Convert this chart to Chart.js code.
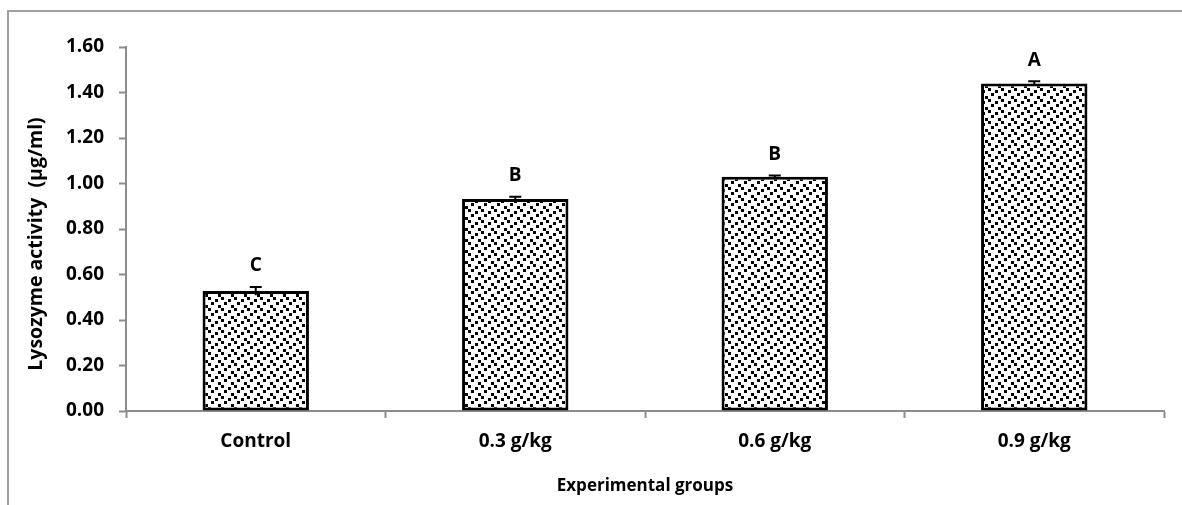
<!DOCTYPE html>
<html>
<head>
<meta charset="utf-8">
<script src="https://cdn.jsdelivr.net/npm/chart.js@4.4.1/dist/chart.umd.min.js"></script>
<style>
  html, body { margin: 0; padding: 0; background: #fff; }
  #wrap { width: 1182px; height: 505px; }
</style>
</head>
<body>
<div id="wrap"><canvas id="lysoChart" width="1182" height="505"></canvas></div>
<script>
// data
const groups = ['Control', '0.3 g/kg', '0.6 g/kg', '0.9 g/kg'];
const lysozyme = [0.527, 0.932, 1.030, 1.440];
const errors = [0.018, 0.010, 0.005, 0.010];
const letters = ['C', 'B', 'B', 'A'];
const yTicks = [0, 0.2, 0.4, 0.6, 0.8, 1.0, 1.2, 1.4, 1.6];
const yTitle = 'Lysozyme activity  (µg/ml)';

const FONT = "'Open Sans', 'Noto Sans', sans-serif";
const AXIS_GRAY = '#8c8c8c';

// dotted fill like the Excel pattern
function makePattern(ctx) {
    const tile = document.createElement('canvas');
    tile.width = 13;
    tile.height = 11;
    const t = tile.getContext('2d');
    t.fillStyle = '#fff';
    t.fillRect(0, 0, 13, 11);
    t.fillStyle = '#000';
    [[0, 0], [7, 2], [3, 5], [10, 8]].forEach(p => t.fillRect(p[0], p[1], 3, 3));
    return ctx.createPattern(tile, 'repeat');
}

// outer frame of the chart object (cut off at right and bottom) + y title
const framePlugin = {
    id: 'frame',
    beforeDraw(chart) {
        const ctx = chart.ctx;
        ctx.save();
        ctx.fillStyle = '#fff';
        ctx.fillRect(0, 0, chart.width, chart.height);
        ctx.strokeStyle = '#a0a0a0';
        ctx.lineWidth = 2;
        ctx.beginPath();
        ctx.moveTo(8, chart.height + 5);
        ctx.lineTo(8, 11);
        ctx.lineTo(chart.width + 5, 11);
        ctx.stroke();

        // Excel centres this title a bit lower than Chart.js would
        ctx.translate(36, 244);
        ctx.rotate(-Math.PI / 2);
        ctx.fillStyle = '#000';
        ctx.font = 'bold 19.5px ' + FONT;
        ctx.textAlign = 'center';
        ctx.textBaseline = 'middle';
        ctx.fillText(yTitle, 0, 0);
        ctx.restore();
    }
};

// error bars and significance letters
const errorPlugin = {
    id: 'errorLetters',
    afterDatasetsDraw(chart) {
        const ctx = chart.ctx;
        const y = chart.scales.y;
        const meta = chart.getDatasetMeta(0);
        ctx.save();
        ctx.strokeStyle = '#000';
        ctx.lineWidth = 2;
        ctx.fillStyle = '#000';
        ctx.font = 'bold 19px ' + FONT;
        ctx.textAlign = 'center';
        ctx.textBaseline = 'middle';
        meta.data.forEach((bar, i) => {
            const x = bar.x;
            const top = y.getPixelForValue(lysozyme[i] + errors[i]);
            const low = y.getPixelForValue(lysozyme[i] - errors[i]);
            ctx.beginPath();
            ctx.moveTo(x, low);
            ctx.lineTo(x, top);
            ctx.moveTo(x - 6, top);
            ctx.lineTo(x + 6, top);
            ctx.stroke();
            ctx.fillText(letters[i], x, top - 21);
        });
        ctx.restore();
    }
};

const canvas = document.getElementById('lysoChart');
const ctx = canvas.getContext('2d');

new Chart(canvas, {
    type: 'bar',
    data: {
        labels: groups,
        datasets: [{
            data: lysozyme,
            backgroundColor: makePattern(ctx),
            borderColor: '#000',
            borderWidth: 3,
            borderSkipped: false,
            categoryPercentage: 1,
            barPercentage: 0.41
        }]
    },
    options: {
        responsive: false,
        animation: false,
        devicePixelRatio: 1,
        layout: { padding: { top: 47, right: 18, left: 0, bottom: 0 } },
        plugins: {
            legend: { display: false },
            tooltip: { enabled: false }
        },
        scales: {
            x: {
                offset: true,
                grid: {
                    offset: true,
                    drawOnChartArea: false,
                    drawTicks: true,
                    tickLength: 7,
                    tickWidth: 2,
                    color: AXIS_GRAY
                },
                border: { color: AXIS_GRAY, width: 2 },
                ticks: {
                    color: '#000',
                    padding: 12,
                    font: { family: FONT, size: 19, weight: 'bold' }
                },
                title: {
                    display: true,
                    text: 'Experimental groups',
                    color: '#000',
                    padding: { top: 0, bottom: 9 },
                    font: { family: FONT, size: 17, weight: 'bold' }
                },
                afterFit(scale) { scale.height = 94; }
            },
            y: {
                min: 0,
                max: 1.6,
                afterBuildTicks(scale) {
                    scale.ticks = yTicks.map(v => ({ value: v }));
                },
                grid: {
                    drawOnChartArea: false,
                    drawTicks: true,
                    tickLength: 7,
                    tickWidth: 2,
                    color: AXIS_GRAY
                },
                border: { color: AXIS_GRAY, width: 2 },
                ticks: {
                    color: '#000',
                    padding: 15,
                    font: { family: FONT, size: 19, weight: 'bold' },
                    callback: v => Number(v).toFixed(2)
                },
                title: { display: false },
                afterFit(scale) { scale.width = 126; }
            }
        }
    },
    plugins: [framePlugin, errorPlugin]
});
</script>
</body>
</html>
